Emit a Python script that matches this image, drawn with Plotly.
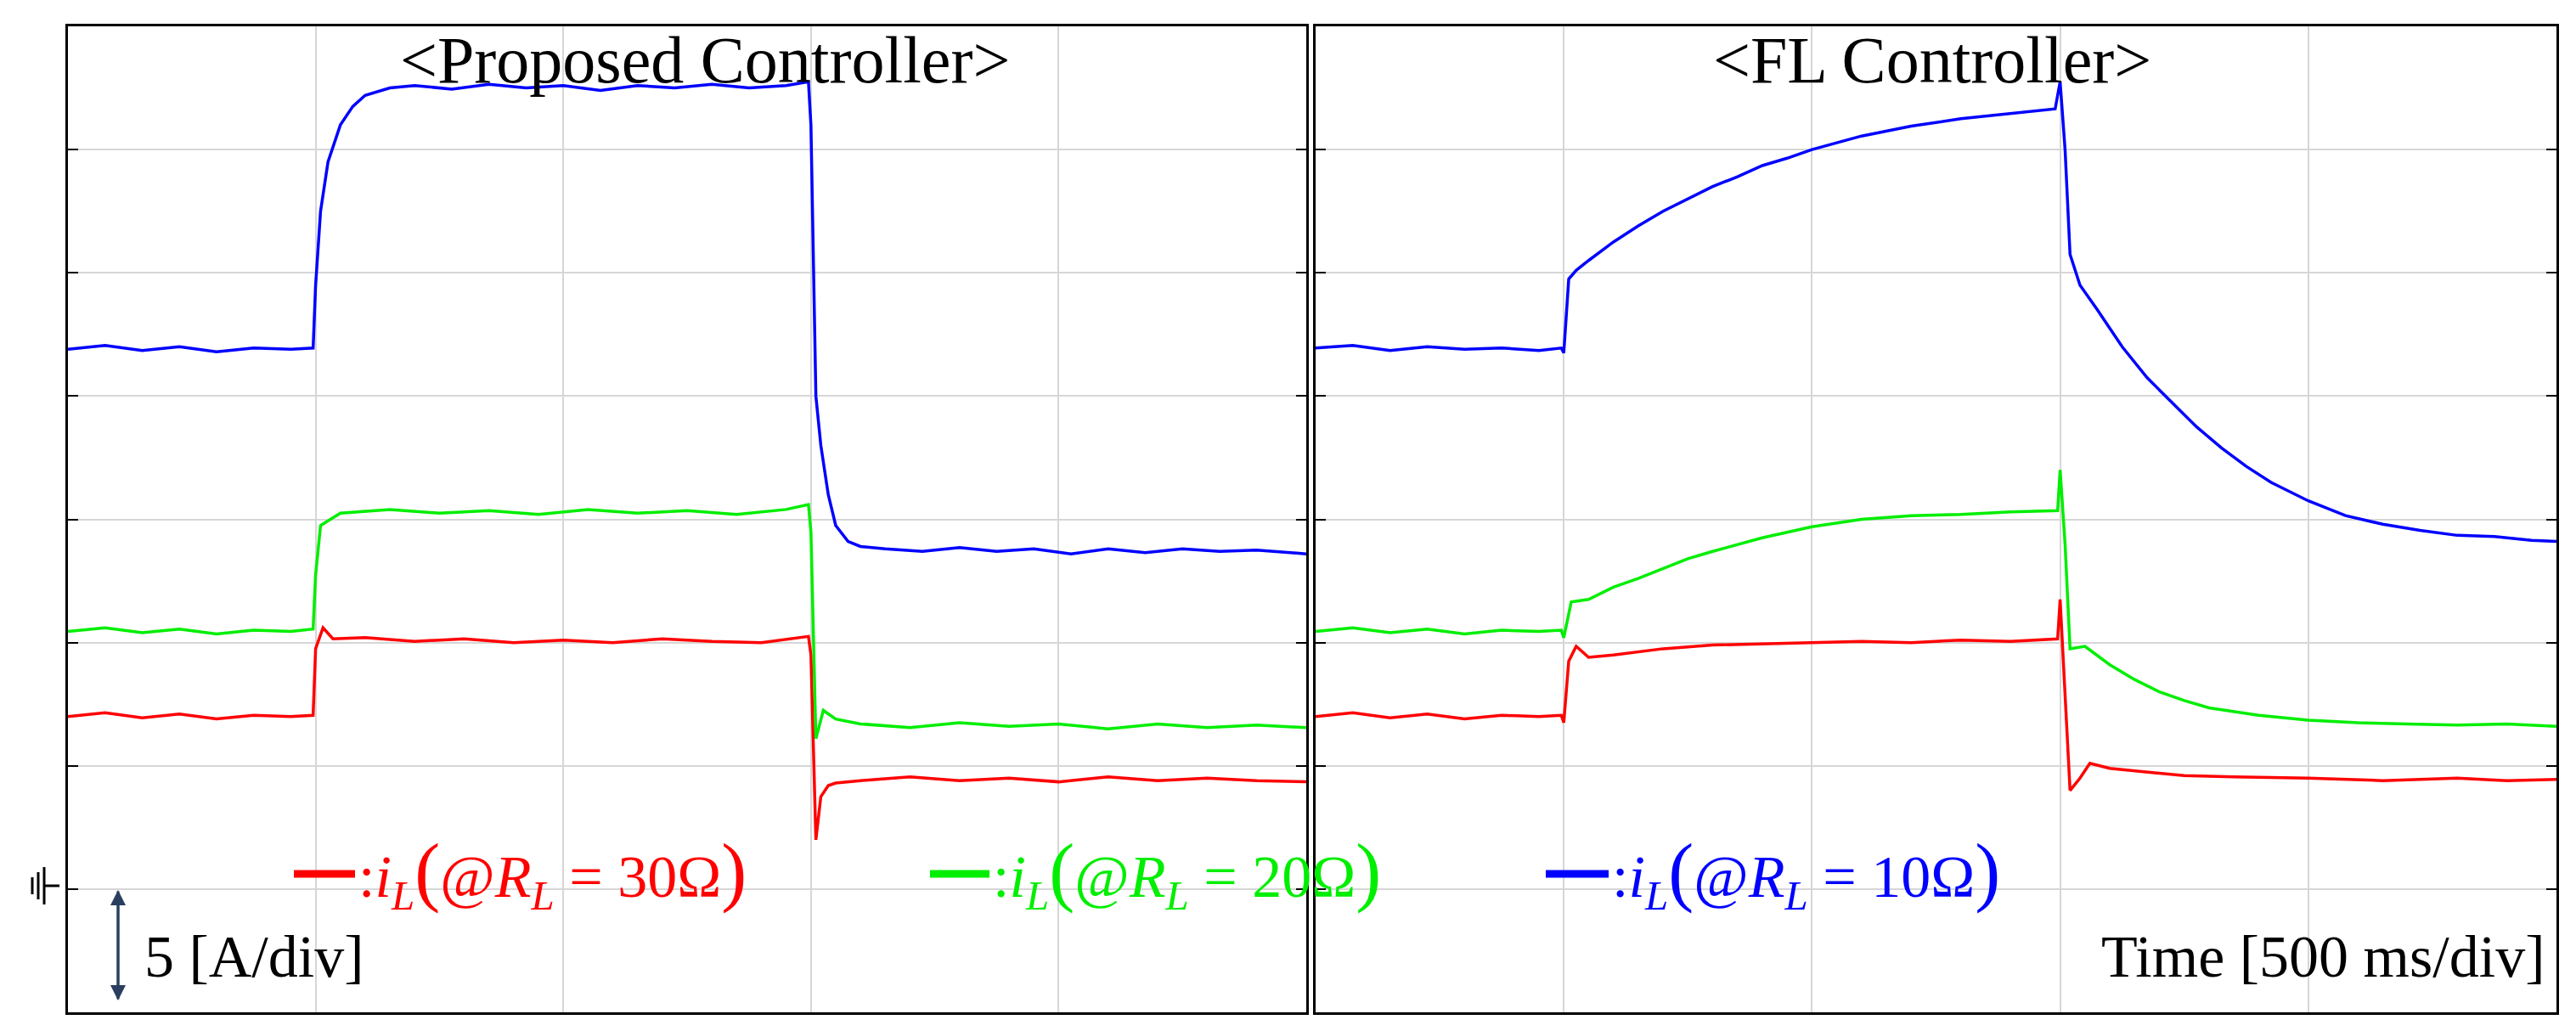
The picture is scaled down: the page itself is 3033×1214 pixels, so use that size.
import plotly.graph_objects as go

# time in divisions (500 ms/div), current in divisions (5 A/div) from bottom of screen
p_blue_x = [0,0.15,0.3,0.45,0.6,0.75,0.9,0.99,1.0,1.02,1.05,1.1,1.15,1.2,1.3,1.4,1.55,1.7,1.85,2.0,2.15,2.3,2.45,2.6,2.75,2.9,2.99,3.0,3.02,3.04,3.07,3.1,3.15,3.2,3.3,3.45,3.6,3.75,3.9,4.05,4.2,4.35,4.5,4.65,4.8,5.0]
p_blue_y = [5.38,5.41,5.37,5.40,5.36,5.39,5.38,5.39,5.9,6.5,6.9,7.2,7.35,7.44,7.5,7.52,7.49,7.53,7.50,7.52,7.48,7.52,7.50,7.53,7.50,7.52,7.55,7.2,5.0,4.6,4.2,3.95,3.82,3.78,3.76,3.74,3.77,3.74,3.76,3.72,3.76,3.73,3.76,3.74,3.75,3.72]
p_green_x = [0,0.15,0.3,0.45,0.6,0.75,0.9,0.99,1.0,1.02,1.06,1.1,1.3,1.5,1.7,1.9,2.1,2.3,2.5,2.7,2.9,2.99,3.0,3.02,3.05,3.1,3.2,3.4,3.6,3.8,4.0,4.2,4.4,4.6,4.8,5.0]
p_green_y = [3.09,3.12,3.08,3.11,3.07,3.10,3.09,3.11,3.55,3.95,4.0,4.05,4.08,4.05,4.07,4.04,4.08,4.05,4.07,4.04,4.08,4.12,3.9,2.22,2.45,2.38,2.34,2.31,2.35,2.32,2.34,2.30,2.34,2.31,2.33,2.31]
p_red_x = [0,0.15,0.3,0.45,0.6,0.75,0.9,0.99,1.0,1.03,1.07,1.2,1.4,1.6,1.8,2.0,2.2,2.4,2.6,2.8,2.99,3.0,3.02,3.04,3.07,3.1,3.2,3.4,3.6,3.8,4.0,4.2,4.4,4.6,4.8,5.0]
p_red_y = [2.40,2.43,2.39,2.42,2.38,2.41,2.40,2.41,2.95,3.12,3.03,3.04,3.01,3.03,3.00,3.02,3.00,3.03,3.01,3.00,3.05,2.9,1.4,1.75,1.84,1.86,1.88,1.91,1.88,1.90,1.87,1.91,1.88,1.90,1.88,1.87]

f_blue_x = [0,0.15,0.3,0.45,0.6,0.75,0.9,0.99,1.0,1.02,1.05,1.1,1.2,1.3,1.4,1.5,1.6,1.7,1.8,1.9,2.0,2.2,2.4,2.6,2.8,2.98,3.0,3.02,3.04,3.08,3.15,3.25,3.35,3.45,3.55,3.65,3.75,3.85,4.0,4.15,4.3,4.45,4.6,4.75,4.9,5.0]
f_blue_y = [5.39,5.41,5.37,5.40,5.38,5.39,5.37,5.39,5.35,5.95,6.02,6.1,6.25,6.38,6.5,6.6,6.7,6.78,6.87,6.93,7.0,7.11,7.19,7.25,7.29,7.33,7.55,7.0,6.15,5.9,5.7,5.4,5.15,4.95,4.75,4.58,4.43,4.3,4.15,4.03,3.96,3.91,3.87,3.86,3.83,3.82]
f_green_x = [0,0.15,0.3,0.45,0.6,0.75,0.9,0.99,1.0,1.03,1.1,1.2,1.3,1.4,1.5,1.6,1.8,2.0,2.2,2.4,2.6,2.8,2.99,3.0,3.02,3.04,3.1,3.2,3.3,3.4,3.5,3.6,3.8,4.0,4.2,4.4,4.6,4.8,5.0]
f_green_y = [3.09,3.12,3.08,3.11,3.07,3.10,3.09,3.10,3.04,3.33,3.35,3.45,3.52,3.6,3.68,3.74,3.85,3.94,4.0,4.03,4.04,4.06,4.07,4.4,3.8,2.95,2.97,2.82,2.7,2.6,2.53,2.47,2.41,2.37,2.35,2.34,2.33,2.34,2.32]
f_red_x = [0,0.15,0.3,0.45,0.6,0.75,0.9,0.99,1.0,1.02,1.05,1.1,1.2,1.4,1.6,1.8,2.0,2.2,2.4,2.6,2.8,2.99,3.0,3.02,3.04,3.08,3.12,3.2,3.35,3.5,3.7,4.0,4.3,4.6,4.8,5.0]
f_red_y = [2.40,2.43,2.39,2.42,2.38,2.41,2.40,2.41,2.35,2.85,2.97,2.88,2.90,2.95,2.98,2.99,3.00,3.01,3.00,3.02,3.01,3.03,3.35,2.6,1.8,1.9,2.02,1.98,1.95,1.92,1.91,1.90,1.88,1.90,1.88,1.89]

series = [
    ("x", p_red_x, p_red_y, "#ff0000"), ("x", p_green_x, p_green_y, "#00ee00"), ("x", p_blue_x, p_blue_y, "#0000ff"),
    ("x2", f_red_x, f_red_y, "#ff0000"), ("x2", f_green_x, f_green_y, "#00ee00"), ("x2", f_blue_x, f_blue_y, "#0000ff"),
]

fig = go.Figure()
for ax, xs, ys, c in series:
    fig.add_trace(go.Scatter(x=xs, y=ys, mode="lines", line=dict(color=c, width=3.5),
                             xaxis=ax, yaxis="y" if ax == "x" else "y2", showlegend=False))

W, H = 3033, 1214
def px(x): return x / W
def py(y): return 1 - y / H

common_x = dict(range=[0, 5], dtick=1, showgrid=True, gridcolor="#d6d6d6", gridwidth=2,
                showline=True, linecolor="black", linewidth=3, mirror=True, showticklabels=False,
                ticks="", zeroline=False, fixedrange=True)
common_y = dict(range=[0, 8], dtick=1, showgrid=True, gridcolor="#d6d6d6", gridwidth=2,
                showline=True, linecolor="black", linewidth=3, mirror="ticks", ticks="inside",
                ticklen=12, tickwidth=2, tickcolor="black", showticklabels=False, zeroline=False)
ydom = [30 / H, 1 - 23 / H]
fig.update_layout(
    width=W, height=H, margin=dict(l=0, r=0, t=0, b=0),
    paper_bgcolor="white", plot_bgcolor="white",
    xaxis=dict(domain=[px(72), px(1530)], **common_x),
    xaxis2=dict(domain=[px(1541), px(3002)], **common_x),
    yaxis=dict(domain=ydom, anchor="x", **common_y),
    yaxis2=dict(domain=ydom, anchor="x2", **common_y),
    font=dict(family="Liberation Serif", color="black"),
)

ann = []
ann.append(dict(text="&lt;Proposed Controller&gt;", x=px(822), y=py(62), font=dict(size=78)))
ann.append(dict(text="&lt;FL Controller&gt;", x=px(2267), y=py(62), font=dict(size=78)))
legend = [("30", "#ff0000", 338, 410), ("20", "#00ee00", 1087, 1157), ("10", "#0000ff", 1812, 1886)]
shapes = []
for r, c, x0, x1 in legend:
    shapes.append(dict(type="line", xref="paper", yref="paper", x0=px(x0), x1=px(x1), y0=py(1021), y1=py(1021),
                       line=dict(color=c, width=9)))
    ann.append(dict(text=f":<i>i</i><sub><i>L</i></sub><span style='font-size:90px'>(</span>@<i>R</i><sub><i>L</i></sub> = {r}Ω<span style='font-size:90px'>)</span>",
                    x=px(x1 + 2), y=py(1021), xanchor="left", font=dict(size=70, color=c)))
ann.append(dict(text="5 [A/div]", x=px(160), y=py(1118), xanchor="left", font=dict(size=70)))
ann.append(dict(text="Time [500 ms/div]", x=px(2990), y=py(1118), xanchor="right", font=dict(size=70)))
for a in ann:
    a.setdefault("xanchor", "center")
    a.update(xref="paper", yref="paper", yanchor="middle", showarrow=False)
fig.update_layout(annotations=ann)

# double arrow
fig.add_annotation(x=px(131), y=py(1040), ax=0, ay=130, xref="paper", yref="paper",
                   showarrow=True, arrowhead=2, arrowsize=1.2, arrowwidth=3, text="")
fig.add_annotation(x=px(131), y=py(1170), ax=0, ay=-130, xref="paper", yref="paper",
                   showarrow=True, arrowhead=2, arrowsize=1.2, arrowwidth=3, text="")
# ground symbol
shapes.append(dict(type="line", xref="paper", yref="paper", x0=px(44), x1=px(62), y0=py(1035), y1=py(1035), line=dict(color="black", width=3)))
for i, h in enumerate([22, 16, 10]):
    xx = 44 - i * 7
    shapes.append(dict(type="line", xref="paper", yref="paper", x0=px(xx), x1=px(xx), y0=py(1035 - h), y1=py(1035 + h), line=dict(color="black", width=3)))
fig.update_layout(shapes=shapes)

fig.write_html("out.html")
